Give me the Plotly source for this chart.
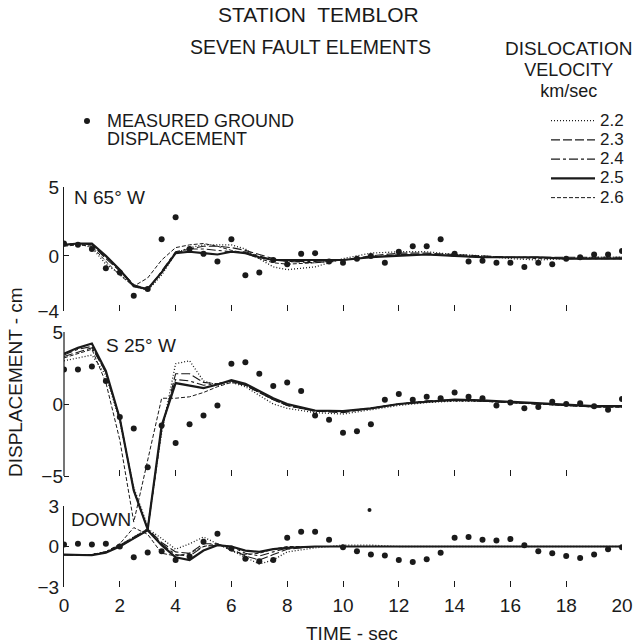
import plotly.graph_objects as go

# ---------------- data ----------------
t_meas = [0, 0.5, 1, 1.5, 2, 2.5, 3, 3.5, 4, 4.5, 5, 5.5, 6, 6.5, 7, 7.5, 8, 8.5, 9, 9.5,
          10, 10.5, 11, 11.5, 12, 12.5, 13, 13.5, 14, 14.5, 15, 15.5, 16, 16.5, 17, 17.5,
          18, 18.5, 19, 19.5, 20]

n65w_meas = [0.9, 0.8, 0.5, -0.9, -1.2, -2.9, -2.4, 1.2, 2.8, 0.5, 0.15, -0.4, 1.2, -1.4, -1.2,
             -0.3, -0.6, 0.15, 0.2, -0.4, -0.5, -0.2, 0.0, -0.5, 0.3, 0.7, 0.7, 1.2, 0.15, -0.4,
             -0.35, -0.5, -0.5, -0.8, -0.5, -0.6, -0.2, -0.1, 0.1, 0.1, 0.35]

s25w_meas = [2.4, 2.4, 2.6, 1.6, -0.9, -1.7, -4.4, -1.5, -2.7, -1.4, -0.8, -0.1, 2.8, 2.9, 2.1,
             1.25, 1.5, 0.9, -0.8, -1.1, -2.0, -1.9, -1.4, 0.3, 0.7, 0.3, 0.5, 0.4, 0.8, 0.5,
             0.4, -0.1, 0.1, -0.3, -0.2, 0.15, 0.0, 0.05, -0.15, -0.4, 0.35]

down_meas = [0.15, 0.2, 0.15, 0.2, 0.0, -0.8, -0.45, -0.35, -1.0, -0.75, 0.35, 0.95, -0.15, -0.9,
             -1.1, -1.0, 0.65, 1.1, 1.1, 0.5, -0.05, -0.35, -0.6, -0.67, -1.0, -1.15, -0.95,
             -0.47, 0.65, 0.7, 0.5, 0.45, 0.55, 0.1, -0.35, -0.5, -0.7, -0.85, -0.6, -0.2, -0.05]

down_extra_t = [10.95]
down_extra_v = [2.7]

t_syn = [0, 0.5, 1, 1.5, 2, 2.5, 3, 3.5, 4, 4.5, 5, 5.5, 6, 6.5, 7, 7.5, 8,
         9, 10, 11, 12, 13, 14, 15, 16, 17, 18, 19, 20]

velocities = ["2.2", "2.3", "2.4", "2.5", "2.6"]

n65w_syn = {
    "2.2": [0.8, 0.9, 0.6, -0.6, -1.3, -2.2, -2.5, -1.4, 0.2, 0.6, 0.8, 0.8, 0.8, 0.5, -0.2, -0.8,
            -1.0, -0.8, -0.2, 0.2, 0.3, 0.3, 0.1, 0.0, -0.2, -0.3, -0.2, -0.1, -0.1],
    "2.3": [0.8, 0.9, 0.8, -0.2, -1.1, -2.1, -2.4, -1.2, 0.2, 0.5, 0.7, 0.7, 0.6, 0.4, 0.1, -0.2,
            -0.4, -0.5, -0.3, 0.0, 0.2, 0.2, 0.1, 0.0, -0.1, -0.1, -0.1, -0.1, -0.1],
    "2.4": [0.8, 0.9, 0.8, -0.1, -1.0, -2.1, -2.5, -1.1, 0.3, 0.5, 0.5, 0.4, 0.3, 0.3, 0.0, -0.3,
            -0.4, -0.4, -0.3, -0.1, 0.1, 0.1, 0.0, -0.1, -0.1, -0.1, -0.2, -0.2, -0.2],
    "2.5": [0.8, 0.9, 0.9, 0.0, -1.0, -2.2, -2.4, -1.2, 0.2, 0.3, 0.2, 0.1, 0.3, 0.2, -0.1, -0.3,
            -0.3, -0.3, -0.3, -0.1, 0.0, 0.1, 0.0, -0.1, -0.1, -0.1, -0.2, -0.2, -0.2],
    "2.6": [0.7, 0.8, 0.7, -0.4, -1.4, -2.2, -1.6, -0.3, 0.6, 0.8, 0.9, 0.7, 0.4, 0.2, -0.2, -0.5,
            -0.6, -0.5, -0.3, -0.1, 0.1, 0.1, 0.0, -0.1, -0.1, -0.2, -0.2, -0.2, -0.2],
}

s25w_syn = {
    "2.2": [3.0, 3.2, 3.4, 2.0, -1.2, -5.8, -8.5, -2.0, 2.8, 3.0, 1.6, 1.3, 1.5, 1.2, 0.6, 0.0,
            -0.3, -0.6, -0.7, -0.4, -0.1, 0.1, 0.2, 0.2, 0.1, 0.0, -0.1, -0.2, -0.2],
    "2.3": [3.3, 3.6, 3.9, 2.2, -1.0, -6.0, -8.7, -1.8, 2.1, 2.1, 1.5, 1.4, 1.6, 1.3, 0.8, 0.3,
            -0.1, -0.5, -0.6, -0.3, 0.0, 0.2, 0.3, 0.2, 0.1, 0.0, -0.1, -0.2, -0.2],
    "2.4": [3.4, 3.8, 4.0, 2.2, -1.0, -6.0, -8.7, -1.6, 1.7, 1.6, 1.3, 1.4, 1.6, 1.3, 0.8, 0.3,
            -0.1, -0.5, -0.5, -0.3, 0.0, 0.2, 0.3, 0.2, 0.1, 0.0, -0.1, -0.2, -0.2],
    "2.5": [3.5, 3.9, 4.2, 2.3, -1.0, -6.0, -8.7, -1.5, 1.45, 1.25, 1.1, 1.35, 1.65, 1.4, 0.9, 0.4,
            0.0, -0.45, -0.5, -0.3, 0.0, 0.15, 0.3, 0.25, 0.15, 0.05, -0.05, -0.15, -0.15],
    "2.6": [3.2, 3.5, 3.8, 1.5, -2.5, -8.2, -4.0, 0.4, 0.4, 0.5, 0.8, 1.2, 1.5, 1.3, 0.8, 0.3,
            -0.1, -0.5, -0.5, -0.3, 0.0, 0.2, 0.2, 0.2, 0.1, 0.0, -0.1, -0.2, -0.2],
}

down_syn = {
    "2.2": [-0.6, -0.6, -0.6, -0.4, 0.1, 0.7, 1.3, 0.6, -0.2, 0.2, 0.7, 0.2, -0.3, -0.8, -1.3, -1.0,
            -0.4, -0.1, 0.1, 0.1, 0.0, 0.0, 0.0, 0.0, 0.0, 0.0, 0.0, 0.0, 0.0],
    "2.3": [-0.6, -0.65, -0.6, -0.4, 0.1, 0.7, 1.3, 0.3, -0.4, -0.5, 0.2, 0.2, -0.2, -0.7, -1.0, -0.6,
            -0.2, 0.0, 0.0, 0.0, 0.0, 0.0, 0.0, 0.0, 0.0, 0.0, 0.0, 0.0, 0.0],
    "2.4": [-0.6, -0.65, -0.6, -0.4, 0.0, 0.6, 1.2, 0.2, -0.6, -0.7, 0.0, 0.1, 0.0, -0.5, -0.7, -0.4,
            -0.1, 0.0, 0.0, 0.0, 0.0, 0.0, 0.0, 0.0, 0.0, 0.0, 0.0, 0.0, 0.0],
    "2.5": [-0.6, -0.65, -0.65, -0.45, 0.0, 0.6, 1.2, 0.1, -0.8, -1.0, -0.3, 0.1, 0.0, -0.3, -0.4, -0.2,
            -0.1, 0.0, 0.0, 0.0, 0.0, 0.0, 0.0, 0.0, 0.0, 0.0, 0.0, 0.0, 0.0],
    "2.6": [-0.6, -0.6, -0.6, -0.4, 0.2, 1.4, 0.9, -0.5, -0.7, -0.5, 0.0, 0.2, -0.3, -0.6, -0.5, -0.2,
            0.0, 0.0, 0.0, 0.0, 0.0, 0.0, 0.0, 0.0, 0.0, 0.0, 0.0, 0.0, 0.0],
}

x_ticks = [0, 2, 4, 6, 8, 10, 12, 14, 16, 18, 20]
n65w_ticks, n65w_labels = [-4, 0, 5], ["\u22124", "0", "5"]
s25w_ticks, s25w_labels = [-5, 0, 5], ["\u22125", "0", "5"]
down_ticks, down_labels = [-3, 0, 3], ["\u22123", "0", "3"]

# ---------------- styling / layout ----------------
W, H = 634, 644
FONT = "Liberation Sans, Arial, sans-serif"
INK = "#1a1a1a"

def fx(p):
    return p / W

def fy(p):
    return 1 - p / H

X0, X1 = 64, 622
P1_TOP, P1_BOT = 187, 311   # 5 .. -4
P2_TOP, P2_BOT = 332, 476   # 5 .. -5
P3_TOP, P3_BOT = 506, 587   # 3 .. -3
p2_scale = (P2_BOT - P2_TOP) / 10.0
p2_low = 5 - (P3_BOT - P2_TOP) / p2_scale

styles = {
    "2.2": dict(dash="1px,2px", width=1.3),
    "2.3": dict(dash="9px,3px", width=1.1),
    "2.4": dict(dash="9px,3px,3px,3px", width=1.1),
    "2.5": dict(dash="solid", width=2.2),
    "2.6": dict(dash="4px,2px", width=1.0),
}

fig = go.Figure()

panels = [("x", "y", n65w_syn, n65w_meas), ("x2", "y2", s25w_syn, s25w_meas), ("x3", "y3", down_syn, down_meas)]
for i, (xa, ya, syn, meas) in enumerate(panels):
    for v in velocities:
        fig.add_trace(go.Scatter(
            x=t_syn, y=syn[v], xaxis=xa, yaxis=ya, mode="lines",
            line=dict(color=INK, **styles[v]),
            name="<span style='font-size:17px'>%s</span>" % v, legend="legend",
            showlegend=(i == 0), hoverinfo="skip"))
    fig.add_trace(go.Scatter(
        x=t_meas, y=meas, xaxis=xa, yaxis=ya, mode="markers",
        marker=dict(color=INK, size=6),
        name="<span style='font-size:18px'>MEASURED GROUND</span><br><span style='font-size:18px'>DISPLACEMENT</span>",
        legend="legend2", showlegend=(i == 0), hoverinfo="skip"))

fig.add_trace(go.Scatter(
    x=down_extra_t, y=down_extra_v, xaxis="x3", yaxis="y3", mode="markers",
    marker=dict(color=INK, size=4), showlegend=False, hoverinfo="skip"))

tickfont = dict(family=FONT, size=19, color=INK)
common_x = dict(domain=[fx(X0), fx(X1)], range=[0, 20], tickvals=x_ticks, ticks="inside",
                ticklen=6, tickwidth=1, tickcolor=INK, showline=False, showgrid=False,
                zeroline=False, fixedrange=True, ticklabeloverflow="allow", automargin=False)
common_y = dict(ticks="inside", ticklen=5, tickwidth=1.2, tickcolor=INK, showgrid=False,
                zeroline=False, tickfont=tickfont, linecolor=INK, linewidth=1.2,
                fixedrange=True, automargin=False)

fig.update_layout(
    width=W, height=H, margin=dict(l=0, r=0, t=0, b=0, autoexpand=False),
    paper_bgcolor="white", plot_bgcolor="rgba(0,0,0,0)",
    font=dict(family=FONT, color=INK),
    xaxis=dict(**common_x, anchor="y", showticklabels=False),
    xaxis2=dict(**common_x, anchor="free", position=fy(P2_BOT), showticklabels=False),
    xaxis3=dict(**common_x, anchor="y3", showticklabels=True, ticklabelstandoff=5,
                ticktext=[str(t) for t in x_ticks], tickfont=tickfont),
    yaxis=dict(**common_y, domain=[fy(P1_BOT), fy(P1_TOP)], range=[-4, 5],
               tickvals=n65w_ticks, ticktext=n65w_labels, anchor="x", showline=True),
    yaxis2=dict(**common_y, domain=[fy(P3_BOT), fy(P2_TOP)], range=[p2_low, 5],
                tickvals=s25w_ticks, ticktext=s25w_labels, anchor="x2", showline=False),
    yaxis3=dict(**common_y, domain=[fy(P3_BOT), fy(P3_TOP)], range=[-3, 3],
                tickvals=down_ticks, ticktext=down_labels, anchor="x3", showline=True),
    legend=dict(x=fx(546), y=fy(106), xanchor="left", yanchor="top",
                font=dict(family=FONT, size=12.5, color=INK), bgcolor="rgba(0,0,0,0)",
                itemwidth=44, tracegroupgap=0, traceorder="normal"),
    legend2=dict(x=fx(67), y=fy(105), xanchor="left", yanchor="top",
                 font=dict(family=FONT, size=14.5, color=INK), bgcolor="rgba(0,0,0,0)",
                 valign="top", itemwidth=30),
)

# axis line of the middle panel only between -5 and 5
fig.add_shape(type="line", xref="paper", yref="y2", x0=fx(X0), x1=fx(X0), y0=-5, y1=5,
              line=dict(color=INK, width=1.2))

def ann(text, x, y, size, xanchor="center", angle=0, yanchor="middle"):
    fig.add_annotation(text=text, x=fx(x), y=fy(y), xref="paper", yref="paper",
                       xanchor=xanchor, yanchor=yanchor, showarrow=False, textangle=angle,
                       align="center", font=dict(family=FONT, size=size, color=INK))

ann("STATION  TEMBLOR", 318, 15, 21)
ann("SEVEN FAULT ELEMENTS", 310, 47, 19.5)
ann("<span style='font-size:19px'>DISLOCATION</span><br>"
    "<span style='font-size:18px'>VELOCITY</span><br>"
    "<span style='font-size:18px'>km/sec</span>", 568, 36, 16, yanchor="top")
ann("N 65\u00b0 W", 72, 198, 19, xanchor="left")
ann("S 25\u00b0 W", 104, 345, 19, xanchor="left")
ann("DOWN", 69, 519, 19, xanchor="left")
ann("TIME - sec", 352, 633, 19)
ann("DISPLACEMENT - cm", 16, 382, 19, angle=-90)

fig.write_html("out.html")
